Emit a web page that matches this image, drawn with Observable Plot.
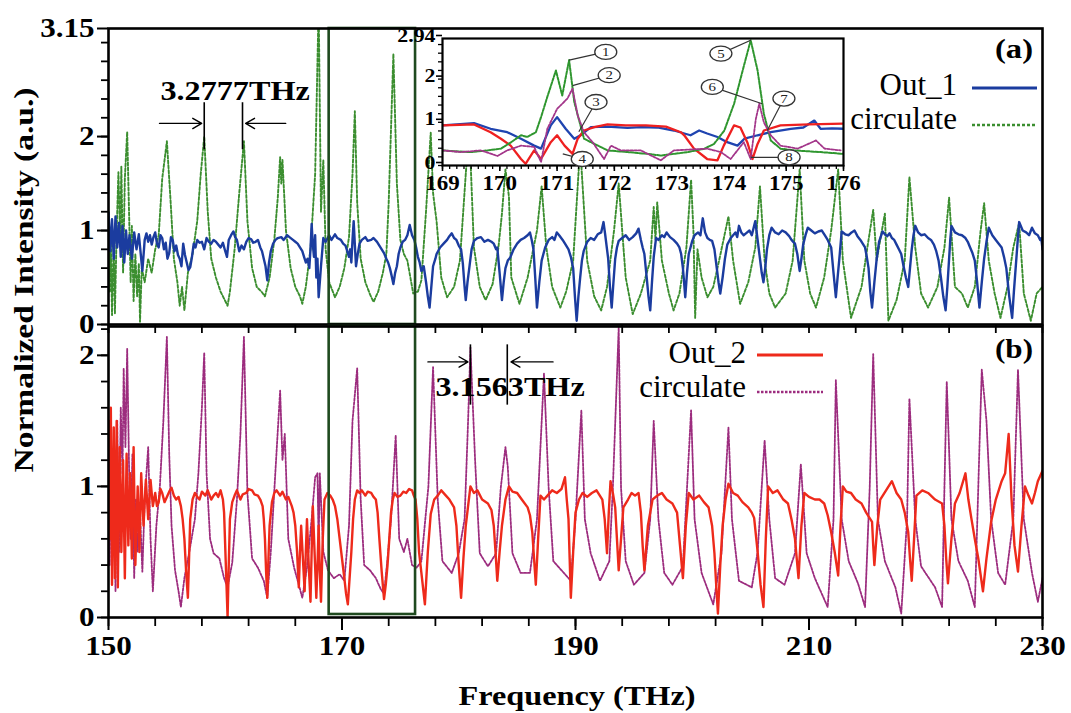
<!DOCTYPE html>
<html>
<head>
<meta charset="utf-8">
<script src="https://cdn.jsdelivr.net/npm/d3@7"></script>
<script src="https://cdn.jsdelivr.net/npm/@observablehq/plot@0.6"></script>
<style>
  body { margin: 0; background: #fff; }
  #fig { position: relative; width: 1071px; height: 713px; background: #fff; overflow: hidden; }
</style>
</head>
<body>
<div id="fig"></div>
<script>
// ---------- Spectra: [frequency (THz), normalized intensity] ----------
const out1 = [[150.0,1.19],[150.15,0.78],[150.3,1.12],[150.45,0.7],[150.6,1.15],[150.75,0.82],[150.9,1.08],[151.05,0.72],[151.2,1.05],[151.35,0.66],[151.5,1.0],[151.65,0.75],[151.8,0.95],[152.0,0.7],[152.2,0.98],[152.4,0.8],[152.6,0.96],[152.9,0.57],[153.1,0.9],[153.25,0.97],[153.4,0.88],[153.55,0.95],[153.7,0.85],[153.85,0.93],[154.0,0.98],[154.15,0.86],[154.3,0.82],[154.45,0.95],[154.6,0.92],[154.75,0.8],[154.9,0.87],[155.05,0.7],[155.2,0.76],[155.35,0.93],[155.5,0.9],[155.65,0.78],[155.8,0.84],[155.95,0.74],[156.1,0.7],[156.25,0.62],[156.4,0.86],[156.55,0.74],[156.7,0.66],[156.85,0.58],[157.0,0.61],[157.15,0.72],[157.3,0.86],[157.45,0.82],[157.6,0.9],[157.8,0.87],[158.0,0.88],[158.2,0.8],[158.4,0.92],[158.6,0.88],[158.8,0.86],[159.0,0.9],[159.2,0.88],[159.4,0.85],[159.6,0.82],[159.8,0.87],[160.0,0.78],[160.15,0.72],[160.3,0.9],[160.5,0.95],[160.7,0.99],[160.85,0.93],[161.0,0.9],[161.2,0.78],[161.4,0.84],[161.6,0.8],[161.8,0.88],[162.0,0.92],[162.2,0.91],[162.4,0.87],[162.6,0.88],[162.8,0.9],[163.0,0.82],[163.15,0.78],[163.3,0.7],[163.45,0.62],[163.6,0.47],[163.75,0.66],[163.9,0.78],[164.1,0.86],[164.3,0.9],[164.5,0.92],[164.8,0.93],[165.0,0.9],[165.3,0.95],[165.5,0.93],[165.8,0.9],[166.0,0.88],[166.2,0.86],[166.4,0.82],[166.6,0.78],[166.75,0.72],[166.9,0.66],[167.05,0.7],[167.2,0.6],[167.3,0.8],[167.4,1.07],[167.5,0.85],[167.6,0.72],[167.7,0.95],[167.8,0.5],[167.9,0.7],[168.0,0.29],[168.1,0.45],[168.2,0.62],[168.4,0.92],[168.6,0.88],[168.9,0.95],[169.1,0.9],[169.4,0.96],[169.6,0.92],[169.9,0.9],[170.1,0.86],[170.3,0.84],[170.45,0.78],[170.6,0.72],[170.7,0.8],[170.8,0.66],[170.9,0.9],[171.0,1.1],[171.1,0.85],[171.2,0.62],[171.35,0.75],[171.5,0.86],[171.7,0.9],[172.0,0.93],[172.2,0.89],[172.5,0.9],[172.7,0.92],[173.0,0.88],[173.2,0.84],[173.4,0.8],[173.6,0.76],[173.8,0.7],[173.95,0.66],[174.1,0.6],[174.25,0.52],[174.4,0.43],[174.55,0.55],[174.7,0.62],[174.85,0.75],[175.0,0.82],[175.2,0.88],[175.4,0.9],[175.6,0.95],[175.8,1.06],[176.0,0.95],[176.2,0.9],[176.35,0.82],[176.5,0.72],[176.65,0.66],[176.8,0.57],[177.0,0.62],[177.2,0.45],[177.35,0.3],[177.5,0.18],[177.65,0.4],[177.8,0.62],[178.0,0.7],[178.1,0.75],[178.4,0.82],[178.7,0.86],[179.0,0.9],[179.2,0.94],[179.4,0.97],[179.6,0.92],[179.8,0.9],[180.0,0.84],[180.2,0.8],[180.35,0.65],[180.5,0.4],[180.6,0.26],[180.75,0.45],[180.9,0.6],[181.1,0.8],[181.3,0.89],[181.6,0.92],[181.9,0.93],[182.2,0.88],[182.5,0.9],[182.8,0.88],[183.0,0.86],[183.2,0.8],[183.3,0.82],[183.5,0.55],[183.7,0.26],[183.85,0.45],[184.0,0.6],[184.2,0.68],[184.4,0.71],[184.7,0.8],[185.0,0.86],[185.3,0.9],[185.6,0.92],[185.9,0.95],[186.1,0.98],[186.25,0.9],[186.4,0.8],[186.55,0.5],[186.7,0.18],[186.9,0.45],[187.1,0.68],[187.4,0.82],[187.7,0.9],[188.0,0.93],[188.2,0.9],[188.4,0.98],[188.6,0.95],[188.9,0.9],[189.1,0.86],[189.4,0.8],[189.6,0.72],[189.8,0.6],[189.95,0.3],[190.1,0.04],[190.25,0.3],[190.4,0.5],[190.55,0.68],[190.7,0.78],[191.0,0.88],[191.3,0.92],[191.6,0.9],[191.9,0.96],[192.2,0.98],[192.4,1.09],[192.55,0.95],[192.7,0.8],[192.8,0.7],[192.95,0.4],[193.1,0.18],[193.25,0.45],[193.4,0.7],[193.55,0.82],[193.7,0.89],[194.0,0.92],[194.3,0.95],[194.6,0.9],[194.9,0.93],[195.2,0.97],[195.4,1.02],[195.6,0.9],[195.75,0.82],[195.9,0.75],[196.1,0.5],[196.25,0.3],[196.4,0.15],[196.55,0.45],[196.7,0.72],[196.9,0.92],[197.1,0.9],[197.4,0.95],[197.6,0.93],[197.8,0.98],[198.1,0.93],[198.4,0.9],[198.7,0.86],[198.9,0.82],[199.05,0.75],[199.2,0.6],[199.3,0.45],[199.4,0.29],[199.55,0.55],[199.7,0.75],[199.85,0.82],[200.0,0.89],[200.2,0.95],[200.5,0.98],[200.7,0.95],[200.9,1.13],[201.1,0.98],[201.3,0.92],[201.5,0.9],[201.7,0.89],[201.9,0.8],[202.1,0.6],[202.25,0.45],[202.4,0.33],[202.6,0.5],[202.8,0.7],[203.0,0.85],[203.3,0.92],[203.5,0.95],[203.7,0.98],[203.85,0.93],[204.0,1.05],[204.2,0.98],[204.4,0.95],[204.6,0.97],[204.9,1.0],[205.1,0.95],[205.4,1.1],[205.55,0.95],[205.7,0.8],[205.8,0.7],[205.95,0.55],[206.1,0.45],[206.25,0.6],[206.4,0.8],[206.6,0.95],[206.8,1.03],[207.1,0.98],[207.4,0.96],[207.7,1.0],[208.0,0.98],[208.3,0.94],[208.5,0.9],[208.65,0.88],[208.8,0.86],[209.0,0.75],[209.2,0.57],[209.35,0.7],[209.5,0.85],[209.7,0.95],[209.9,1.03],[210.2,1.0],[210.5,0.97],[210.8,0.99],[211.1,1.0],[211.35,0.95],[211.6,0.9],[211.75,0.86],[211.9,0.82],[212.1,0.55],[212.3,0.29],[212.45,0.5],[212.6,0.7],[212.8,0.99],[213.1,0.96],[213.4,0.95],[213.65,0.98],[213.9,1.0],[214.15,0.94],[214.4,0.9],[214.6,0.86],[214.8,0.82],[214.95,0.72],[215.1,0.6],[215.25,0.35],[215.4,0.18],[215.6,0.45],[215.8,0.7],[216.0,0.88],[216.3,0.99],[216.5,0.96],[216.7,0.94],[216.9,0.97],[217.1,0.92],[217.3,0.9],[217.5,0.85],[217.7,0.8],[217.9,0.75],[218.1,0.62],[218.3,0.5],[218.5,0.4],[218.65,0.6],[218.8,0.8],[218.95,0.95],[219.1,1.05],[219.35,0.98],[219.6,0.95],[219.9,0.96],[220.2,0.92],[220.45,0.9],[220.7,0.85],[220.9,0.78],[221.1,0.68],[221.3,0.5],[221.5,0.3],[221.7,0.15],[221.85,0.4],[222.0,0.7],[222.1,0.9],[222.2,1.05],[222.5,0.98],[222.8,0.96],[223.1,0.95],[223.4,0.92],[223.6,0.88],[223.8,0.82],[224.0,0.76],[224.2,0.68],[224.4,0.45],[224.6,0.18],[224.8,0.45],[225.0,0.7],[225.2,0.88],[225.4,1.03],[225.7,0.95],[226.0,0.9],[226.25,0.86],[226.5,0.82],[226.7,0.72],[226.9,0.6],[227.15,0.3],[227.4,0.07],[227.55,0.35],[227.7,0.6],[227.85,0.85],[228.0,1.09],[228.3,1.0],[228.6,0.98],[228.85,0.95],[229.1,1.03],[229.35,0.97],[229.6,0.95],[229.8,0.9],[229.9,0.92],[230.0,0.8]];

const circulateA = [[150.0,1.2],[150.1,0.35],[150.2,0.95],[150.3,0.1],[150.45,0.85],[150.55,0.12],[150.7,1.0],[150.85,1.62],[151.0,0.9],[151.1,1.68],[151.25,0.55],[151.4,1.55],[151.6,2.05],[151.75,1.25],[151.9,0.45],[152.0,1.05],[152.15,0.25],[152.3,0.75],[152.45,0.3],[152.6,0.65],[152.7,0.03],[152.85,0.6],[153.1,0.45],[153.4,0.7],[153.7,0.55],[154.0,0.8],[154.3,0.95],[154.6,1.55],[155.0,1.95],[155.3,1.35],[155.6,0.7],[155.9,0.45],[156.1,0.2],[156.3,0.4],[156.5,0.15],[156.8,0.55],[157.2,0.75],[157.6,1.1],[157.9,1.6],[158.2,2.0],[158.5,1.2],[158.8,0.7],[159.2,0.5],[159.6,0.35],[160.0,0.25],[160.2,0.2],[160.4,0.35],[160.8,0.8],[161.2,1.4],[161.6,1.95],[161.9,1.1],[162.3,0.6],[162.7,0.4],[163.1,0.35],[163.4,0.3],[163.8,0.5],[164.2,0.9],[164.5,1.35],[164.7,1.78],[164.8,1.5],[164.9,1.75],[165.2,1.0],[165.6,0.6],[166.0,0.4],[166.4,0.3],[166.6,0.22],[166.9,0.4],[167.3,0.8],[167.7,1.6],[168.0,3.4],[168.2,1.2],[168.4,1.75],[168.6,0.8],[168.9,0.45],[169.4,0.29],[169.8,0.4],[170.2,0.6],[170.6,0.93],[170.9,1.6],[171.1,2.27],[171.3,1.3],[171.6,0.7],[172.0,0.45],[172.4,0.32],[172.7,0.24],[173.1,0.35],[173.5,0.55],[173.8,0.75],[174.0,1.3],[174.4,2.88],[174.7,1.5],[175.0,0.9],[175.3,0.75],[175.6,0.68],[176.1,0.33],[176.5,0.35],[176.8,0.47],[177.2,1.21],[177.6,2.04],[177.8,1.4],[178.1,1.1],[178.5,0.5],[179.0,0.29],[179.6,0.4],[180.1,0.68],[180.6,1.6],[180.9,2.1],[181.3,0.82],[181.8,0.4],[182.3,0.26],[182.9,0.43],[183.4,0.82],[183.7,1.18],[184.0,1.65],[184.3,1.36],[184.5,0.5],[185.2,0.22],[185.9,0.5],[186.7,1.0],[187.1,1.47],[187.5,0.82],[188.0,0.4],[188.7,0.18],[189.2,0.35],[189.8,0.68],[190.4,1.9],[191.0,0.68],[191.6,0.3],[192.2,0.15],[192.7,0.4],[193.3,1.0],[193.7,1.5],[194.0,1.0],[194.3,0.5],[194.9,0.11],[195.6,0.33],[196.4,0.68],[196.7,1.25],[196.85,0.9],[197.0,1.3],[197.4,0.68],[198.0,0.33],[198.4,0.15],[198.9,0.33],[199.5,0.82],[199.9,1.54],[200.1,1.0],[200.25,0.07],[200.45,0.8],[200.8,0.5],[201.3,0.29],[201.8,0.4],[202.3,0.68],[203.1,1.15],[203.5,0.68],[204.1,0.22],[204.8,0.45],[205.4,0.82],[205.8,1.47],[206.2,0.68],[206.6,0.33],[207.1,0.18],[208.0,0.33],[208.6,0.68],[209.2,1.65],[209.6,0.68],[210.1,0.33],[210.6,0.18],[211.3,0.5],[211.9,1.0],[212.5,1.65],[212.9,0.68],[213.6,0.07],[214.5,0.4],[215.0,0.82],[215.5,1.22],[215.8,0.68],[216.1,0.9],[216.5,1.18],[216.8,0.04],[217.5,0.26],[218.2,0.68],[218.6,1.57],[219.1,0.82],[219.6,0.33],[220.2,0.18],[221.0,0.4],[221.6,0.82],[222.0,1.35],[222.5,0.4],[223.1,0.33],[223.6,0.18],[224.2,0.4],[224.7,1.0],[225.0,1.29],[225.4,0.68],[225.9,0.33],[226.4,0.07],[227.0,0.4],[227.5,0.82],[228.0,1.08],[228.4,0.33],[229.0,0.04],[229.5,0.33],[230.0,0.4]];

const out2 = [[150.0,1.5],[150.1,0.6],[150.2,1.6],[150.3,0.25],[150.45,1.45],[150.55,0.3],[150.7,1.5],[150.8,0.23],[150.95,1.3],[151.1,0.5],[151.25,1.2],[151.4,0.3],[151.55,1.25],[151.7,0.55],[151.85,1.1],[152.0,0.45],[152.15,1.3],[152.3,0.4],[152.5,1.0],[152.65,0.5],[152.8,1.1],[153.0,0.7],[153.2,1.05],[153.4,0.75],[153.6,1.05],[153.8,0.85],[154.0,0.95],[154.15,0.85],[154.3,0.88],[154.45,0.98],[154.6,0.95],[154.8,0.88],[155.0,0.92],[155.2,0.96],[155.4,0.99],[155.6,0.93],[155.8,0.9],[156.0,0.92],[156.2,0.85],[156.35,0.75],[156.5,0.6],[156.65,0.35],[156.8,0.15],[156.9,0.45],[157.0,0.75],[157.2,0.9],[157.4,0.95],[157.6,0.92],[157.8,0.9],[158.0,0.96],[158.3,0.93],[158.5,0.97],[158.8,0.9],[159.0,0.93],[159.2,0.95],[159.4,0.92],[159.6,0.97],[159.8,0.9],[159.9,0.8],[160.05,0.4],[160.2,0.0],[160.3,0.4],[160.4,0.75],[160.6,0.88],[160.8,0.93],[161.0,0.97],[161.3,0.9],[161.5,0.94],[161.8,0.95],[162.0,0.98],[162.3,0.97],[162.5,0.94],[162.8,0.93],[163.0,0.9],[163.2,0.85],[163.3,0.75],[163.4,0.6],[163.5,0.35],[163.6,0.15],[163.7,0.45],[163.8,0.7],[164.0,0.88],[164.2,0.95],[164.4,0.97],[164.7,0.93],[164.9,0.96],[165.2,0.9],[165.4,0.92],[165.7,0.85],[165.85,0.8],[166.0,0.7],[166.15,0.5],[166.3,0.23],[166.4,0.5],[166.5,0.7],[166.65,0.45],[166.8,0.2],[166.9,0.5],[167.0,0.75],[167.15,0.4],[167.3,0.12],[167.4,0.5],[167.5,0.85],[167.65,0.5],[167.8,0.15],[167.9,0.4],[168.0,0.7],[168.1,0.35],[168.2,0.12],[168.35,0.6],[168.5,0.9],[168.75,0.95],[169.0,0.93],[169.2,0.9],[169.4,0.85],[169.6,0.75],[169.8,0.6],[170.0,0.45],[170.2,0.3],[170.35,0.18],[170.5,0.1],[170.65,0.3],[170.8,0.5],[170.95,0.75],[171.1,0.9],[171.3,0.97],[171.5,0.95],[171.7,0.97],[172.0,0.93],[172.2,0.96],[172.5,0.95],[172.7,0.92],[172.9,0.9],[173.05,0.8],[173.2,0.6],[173.4,0.35],[173.6,0.14],[173.75,0.25],[173.9,0.4],[174.05,0.6],[174.2,0.8],[174.35,0.9],[174.5,0.95],[174.75,0.92],[175.0,0.93],[175.25,0.96],[175.5,0.95],[175.75,0.98],[176.0,0.97],[176.15,0.93],[176.3,0.9],[176.45,0.75],[176.6,0.5],[176.85,0.3],[177.1,0.1],[177.35,0.5],[177.6,0.79],[177.9,0.9],[178.2,0.93],[178.5,0.97],[178.9,0.93],[179.2,0.9],[179.6,0.84],[179.8,0.7],[180.0,0.4],[180.2,0.15],[180.4,0.45],[180.6,0.7],[181.0,1.0],[181.3,0.95],[181.6,0.97],[182.0,0.9],[182.5,0.87],[182.8,0.82],[183.0,0.7],[183.15,0.5],[183.3,0.28],[183.5,0.5],[183.7,0.7],[184.0,0.9],[184.3,1.0],[184.6,0.96],[185.0,0.95],[185.4,0.9],[185.9,0.84],[186.1,0.78],[186.3,0.65],[186.45,0.45],[186.6,0.25],[186.8,0.6],[187.0,0.93],[187.3,0.9],[187.6,0.93],[188.0,0.97],[188.4,0.95],[188.8,0.98],[189.1,1.07],[189.25,0.9],[189.4,0.75],[189.5,0.45],[189.6,0.15],[189.8,0.5],[190.0,0.8],[190.3,0.9],[190.6,0.95],[191.0,0.92],[191.4,0.95],[191.8,0.97],[192.3,0.9],[192.5,0.75],[192.7,0.49],[192.85,0.8],[193.0,1.04],[193.2,0.95],[193.4,0.84],[193.55,0.6],[193.7,0.36],[193.9,0.6],[194.1,0.84],[194.5,0.9],[194.8,0.95],[195.1,0.93],[195.4,0.95],[195.6,0.8],[195.75,0.55],[195.9,0.36],[196.2,0.7],[196.6,0.9],[197.0,0.93],[197.4,0.95],[197.8,0.9],[198.3,0.87],[198.7,0.8],[198.95,0.55],[199.2,0.3],[199.45,0.7],[199.7,0.95],[200.1,0.9],[200.6,0.93],[201.0,0.88],[201.4,0.84],[201.7,0.7],[201.9,0.49],[202.05,0.25],[202.2,0.03],[202.4,0.4],[202.6,0.7],[202.85,0.9],[203.1,1.02],[203.5,0.95],[203.9,0.93],[204.3,0.88],[204.8,0.84],[205.1,0.8],[205.3,0.76],[205.6,0.5],[205.85,0.25],[206.1,0.08],[206.3,0.6],[206.5,1.0],[206.9,0.95],[207.3,0.97],[207.8,0.9],[208.2,0.87],[208.5,0.75],[208.8,0.6],[208.95,0.45],[209.1,0.3],[209.35,0.7],[209.6,0.95],[210.0,0.92],[210.5,0.9],[210.9,0.9],[211.3,0.87],[211.6,0.78],[211.9,0.65],[212.2,0.5],[212.5,0.32],[212.7,0.7],[212.9,1.0],[213.2,0.96],[213.6,0.95],[214.0,0.9],[214.5,0.87],[214.9,0.8],[215.4,0.73],[215.5,0.55],[215.6,0.4],[215.85,0.7],[216.1,0.9],[216.6,0.97],[217.1,1.04],[217.5,0.95],[217.9,0.9],[218.2,0.8],[218.5,0.65],[218.65,0.45],[218.8,0.28],[219.0,0.6],[219.2,0.93],[219.7,0.97],[220.2,0.95],[220.8,0.9],[221.4,0.87],[221.6,0.7],[221.75,0.45],[221.9,0.26],[222.2,0.6],[222.5,0.87],[222.9,0.95],[223.4,1.1],[223.65,0.9],[223.9,0.76],[224.2,0.6],[224.5,0.45],[224.9,0.2],[225.2,0.45],[225.6,0.73],[226.0,0.9],[226.5,1.04],[226.8,1.1],[227.1,1.4],[227.35,0.9],[227.6,0.55],[227.9,0.35],[228.2,0.7],[228.5,1.0],[228.8,0.93],[229.1,0.87],[229.35,0.95],[229.6,1.04],[229.8,1.08],[230.0,1.12]];

const circulateB = [[150.0,1.2],[150.1,0.4],[150.2,1.55],[150.3,0.3],[150.45,1.3],[150.6,0.2],[150.75,1.5],[150.9,0.5],[151.05,1.6],[151.2,1.1],[151.3,1.9],[151.45,1.3],[151.6,2.05],[151.75,1.2],[151.9,0.6],[152.05,1.25],[152.2,0.3],[152.35,0.9],[152.5,0.5],[152.7,0.8],[152.9,0.35],[153.1,0.9],[153.4,1.3],[153.6,0.6],[153.8,0.2],[154.1,0.7],[154.4,1.0],[154.7,1.5],[155.0,2.14],[155.2,1.25],[155.4,0.7],[155.7,0.36],[156.0,0.2],[156.2,0.08],[156.5,0.3],[156.9,0.49],[157.4,0.75],[157.7,1.1],[158.0,1.6],[158.2,2.02],[158.4,1.1],[158.7,0.6],[159.0,0.49],[159.5,0.45],[159.9,0.3],[160.2,0.23],[160.6,0.42],[161.0,0.9],[161.3,1.4],[161.6,2.14],[161.9,0.95],[162.3,0.45],[162.8,0.38],[163.3,0.28],[163.6,0.15],[163.9,0.5],[164.3,1.12],[164.7,1.73],[164.9,1.2],[165.1,1.4],[165.4,0.6],[165.9,0.38],[166.3,0.25],[166.6,0.15],[167.0,0.38],[167.4,0.75],[167.7,1.07],[167.9,1.1],[168.0,0.55],[168.1,1.1],[168.4,0.5],[168.8,0.36],[169.3,0.3],[169.8,0.33],[170.2,0.28],[170.6,0.7],[170.9,1.5],[171.3,1.9],[171.6,0.9],[171.9,0.4],[172.4,0.36],[172.9,0.3],[173.3,0.22],[173.6,0.18],[173.9,0.45],[174.2,0.75],[174.6,1.39],[174.9,0.6],[175.3,0.5],[175.6,0.6],[176.0,0.4],[176.4,0.38],[176.8,0.43],[177.4,1.0],[177.8,1.91],[178.2,0.9],[178.6,0.43],[179.4,0.34],[180.0,0.49],[180.5,0.75],[180.8,1.5],[181.0,2.06],[181.4,1.2],[181.8,0.49],[182.5,0.39],[183.2,0.49],[183.6,0.99],[184.0,1.3],[184.2,1.15],[184.6,0.49],[185.3,0.34],[186.1,0.34],[186.7,0.75],[187.3,1.86],[187.7,0.99],[188.1,0.43],[189.0,0.34],[189.6,0.28],[190.0,0.75],[190.5,1.58],[190.8,0.75],[191.3,0.49],[192.1,0.28],[192.9,0.43],[193.2,0.99],[193.7,2.21],[193.9,0.99],[194.3,0.43],[195.0,0.25],[195.9,0.34],[196.4,0.75],[196.7,1.5],[197.1,0.75],[197.6,0.34],[198.3,0.25],[199.2,0.39],[199.9,1.58],[200.2,0.75],[200.8,0.34],[201.8,0.1],[202.5,0.49],[203.1,1.45],[203.4,0.75],[204.0,0.28],[205.1,0.23],[205.6,0.5],[206.2,1.35],[206.6,0.75],[207.1,0.3],[207.9,0.25],[208.8,0.49],[209.3,1.17],[209.8,0.49],[210.5,0.3],[211.6,0.08],[212.1,0.75],[212.3,1.81],[212.8,0.75],[213.4,0.43],[214.2,0.26],[214.8,0.08],[215.2,0.99],[215.5,2.01],[215.9,0.75],[216.5,0.43],[217.4,0.23],[217.9,0.03],[218.4,0.75],[218.6,1.67],[219.1,0.75],[219.6,0.39],[220.8,0.23],[221.4,0.08],[221.6,0.99],[221.8,1.8],[222.2,0.75],[222.8,0.43],[223.6,0.28],[224.2,0.08],[224.6,1.3],[224.8,1.89],[225.2,1.5],[225.6,0.75],[226.2,0.34],[226.8,0.25],[227.5,0.75],[227.9,1.89],[228.4,0.75],[229.1,0.34],[229.6,0.12],[230.0,0.3]];

// Zoomed 169–176 THz window (inset)
const zoomOut1 = [[169.0,0.93],[169.25,0.95],[169.55,0.98],[169.84,0.85],[170.13,0.77],[170.37,0.62],[170.6,0.46],[170.72,0.39],[170.89,0.93],[171.0,1.12],[171.15,0.85],[171.3,0.62],[171.41,0.7],[171.59,0.89],[171.88,0.9],[172.23,0.87],[172.46,0.89],[172.75,0.88],[173.04,0.81],[173.33,0.7],[173.48,0.81],[173.62,0.74],[173.8,0.66],[173.97,0.54],[174.15,0.46],[174.27,0.62],[174.5,0.7],[174.73,0.77],[175.08,0.85],[175.3,0.88],[175.49,1.04],[175.6,0.85],[175.8,0.86],[176.0,0.85]];
const zoomOut2 = [[169.0,0.93],[169.3,0.94],[169.55,0.95],[169.84,0.77],[170.02,0.62],[170.19,0.46],[170.37,0.15],[170.45,0.04],[170.6,0.35],[170.72,0.15],[170.89,0.54],[171.0,0.7],[171.13,0.46],[171.27,0.27],[171.36,0.62],[171.47,0.81],[171.65,0.89],[171.88,0.95],[172.2,0.93],[172.55,0.93],[172.9,0.9],[173.16,0.77],[173.22,0.7],[173.39,0.39],[173.62,0.15],[173.8,0.12],[173.91,0.46],[174.09,0.93],[174.2,0.88],[174.32,0.54],[174.41,0.15],[174.5,0.5],[174.61,0.81],[174.9,0.93],[175.4,0.95],[176.0,0.97]];
const zoomCircA = [[169.0,0.35],[169.2,0.33],[169.49,0.31],[169.79,0.35],[170.02,0.39],[170.2,0.54],[170.37,0.7],[170.48,0.66],[170.63,0.77],[170.72,1.12],[170.83,1.59],[170.98,2.2],[171.09,1.62],[171.21,2.44],[171.3,1.47],[171.47,0.62],[171.59,0.54],[171.88,0.35],[172.23,0.31],[172.58,0.27],[172.81,0.23],[173.04,0.27],[173.28,0.31],[173.57,0.39],[173.74,0.5],[173.92,0.81],[174.09,1.43],[174.24,2.2],[174.38,2.9],[174.5,2.2],[174.61,1.2],[174.73,0.58],[174.9,0.39],[175.14,0.35],[175.6,0.31],[176.0,0.27]];
const zoomCircB = [[169.0,0.35],[169.32,0.31],[169.67,0.35],[169.96,0.22],[170.13,0.35],[170.37,0.46],[170.6,0.43],[170.72,0.08],[170.83,0.85],[171.0,1.31],[171.18,1.55],[171.27,1.78],[171.36,1.16],[171.47,0.77],[171.62,0.54],[171.82,0.15],[171.94,0.46],[172.11,0.35],[172.46,0.35],[172.81,0.12],[173.04,0.35],[173.62,0.39],[173.86,0.31],[174.03,0.15],[174.26,0.54],[174.38,0.15],[174.47,1.08],[174.53,1.43],[174.61,1.0],[174.73,0.7],[174.9,0.46],[175.2,0.39],[175.52,0.58],[175.67,0.39],[175.95,0.35]];

// Numbered callouts in the zoomed window: label position and the feature it points to
const callouts = [
  {n: "1", x: 171.85, y: 2.63, tx: 171.21, ty: 2.44},
  {n: "2", x: 171.91, y: 2.09, tx: 171.27, ty: 1.85},
  {n: "3", x: 171.68, y: 1.47, tx: 171.38, ty: 0.78},
  {n: "4", x: 171.44, y: 0.15, tx: 171.10, ty: 0.27},
  {n: "5", x: 173.86, y: 2.59, tx: 174.38, ty: 2.90},
  {n: "6", x: 173.71, y: 1.82, tx: 174.58, ty: 1.43},
  {n: "7", x: 174.96, y: 1.55, tx: 174.67, ty: 0.81},
  {n: "8", x: 175.05, y: 0.19, tx: 174.38, ty: 0.19}
];

// Axis ticks
const freqLabels = [150, 170, 190, 210, 230];
const yLabelsA = [0, 1, 2, 3.15];
const yLabelsB = [0, 1, 2];
const zoomFreqLabels = [169, 170, 171, 172, 173, 174, 175, 176];
const zoomYLabels = [0, 1, 2, 2.94];

// Free spectral range markers
const peakA = 158.2, fsrA = 3.2777;
const peakB = 181.0, fsrB = 3.1563;
const zoomWindow = [168.9, 176.3];

// Series styles
const colors = {out1: "#1b3c9f", circA: "#3b8e2f", out2: "#ee2a1b", circB: "#9c2c7e"};
const legendA = [
  {label: "Out_1", color: colors.out1, dash: null},
  {label: "circulate", color: colors.circA, dash: "3,2"}
];
const legendB = [
  {label: "Out_2", color: colors.out2, dash: null},
  {label: "circulate", color: colors.circB, dash: "2.5,1.5"}
];

// ---------- Drawing ----------
const serif = "'Liberation Serif','Times New Roman',serif";
const fig = document.getElementById("fig");
const baseStyle = {background: "transparent", overflow: "visible", fontFamily: serif, color: "black"};
const fx = d => d[0], fy = d => d[1];
const blank = () => "";

function place(el, left, top) {
  el.style.position = "absolute";
  el.style.left = left + "px";
  el.style.top = top + "px";
  fig.appendChild(el);
}
// widen glyphs of the bold labels a little around their anchor
function widen(svg, k) {
  svg.querySelectorAll("text").forEach(t => {
    const tr = t.getAttribute("transform");
    if (tr) t.setAttribute("transform", tr + ` scale(${k},1)`);
  });
}

// Panel (a)
const plotA = Plot.plot({
  width: 1071, height: 327,
  marginLeft: 108, marginRight: 29, marginTop: 28, marginBottom: 3,
  style: baseStyle,
  x: {domain: [150, 230], axis: null},
  y: {domain: [0, 3.15], axis: null},
  marks: [
    Plot.line(circulateA, {x: fx, y: fy, stroke: colors.circA, strokeWidth: 1.9, strokeDasharray: "3,2", clip: true}),
    Plot.line(out1, {x: fx, y: fy, stroke: colors.out1, strokeWidth: 2.4, clip: true}),
    Plot.rect([zoomWindow], {x1: d => d[0], x2: d => d[1], y1: 0, y2: 3.15, fill: "none", stroke: "#1f4a1f", strokeWidth: 2.6}),
    Plot.ruleX([peakA, peakA + fsrA], {x: d => d, y1: 1.86, y2: 2.36, stroke: "black", strokeWidth: 1.6}),
    Plot.arrow([[peakA - 3.83, peakA - 0.22], [peakA + fsrA + 3.7, peakA + fsrA + 0.27]],
      {x1: d => d[0], x2: d => d[1], y1: 2.14, y2: 2.14, stroke: "black", strokeWidth: 1.4, headLength: 11}),
    Plot.text([`${fsrA}THz`], {x: peakA - 3.75, y: 2.48, text: d => d, textAnchor: "start", fontSize: 28, fontWeight: "bold", fill: "black"}),
    Plot.frame({stroke: "black", strokeWidth: 2.6}),
    Plot.axisY(d3.range(0, 3.1, 0.2), {tickSize: 7, tickFormat: blank, strokeWidth: 1.8, label: null}),
    Plot.axisY(yLabelsA, {tickSize: 11, tickPadding: 3, tickFormat: d => String(d), fontSize: 27, fontWeight: "bold", strokeWidth: 2, label: null}),
    Plot.axisX(d3.range(150, 231, 4), {anchor: "bottom", tickSize: 9, tickFormat: blank, strokeWidth: 1.8, label: null})
  ]
});
widen(plotA, 1.15);
place(plotA, 0, 0);

// Panel (b)
const plotB = Plot.plot({
  width: 1071, height: 391,
  marginLeft: 108, marginRight: 29, marginTop: 4, marginBottom: 96,
  style: baseStyle,
  x: {domain: [150, 230], axis: null},
  y: {domain: [0, 2.22], axis: null},
  marks: [
    Plot.line(circulateB, {x: fx, y: fy, stroke: colors.circB, strokeWidth: 1.8, strokeDasharray: "2.5,1.5", clip: true}),
    Plot.line(out2, {x: fx, y: fy, stroke: colors.out2, strokeWidth: 2.4, clip: true}),
    Plot.rect([zoomWindow], {x1: d => d[0], x2: d => d[1], y1: 0.023, y2: 2.22, fill: "none", stroke: "#1f4a1f", strokeWidth: 2.6}),
    Plot.ruleX([peakB, peakB + fsrB], {x: d => d, y1: 1.62, y2: 2.08, stroke: "black", strokeWidth: 1.6}),
    Plot.arrow([[peakB - 3.64, peakB - 0.21], [peakB + fsrB + 3.92, peakB + fsrB + 0.32]],
      {x1: d => d[0], x2: d => d[1], y1: 1.95, y2: 1.95, stroke: "black", strokeWidth: 1.4, headLength: 11}),
    Plot.text([`${fsrB}THz`], {x: peakB - 3.0, y: 1.76, text: d => d, textAnchor: "start", fontSize: 28, fontWeight: "bold", fill: "black"}),
    Plot.frame({stroke: "black", strokeWidth: 2.6}),
    Plot.axisY(d3.range(0, 2.21, 0.2), {tickSize: 7, tickFormat: blank, strokeWidth: 1.8, label: null}),
    Plot.axisY(yLabelsB, {tickSize: 11, tickPadding: 3, tickFormat: d => String(d), fontSize: 27, fontWeight: "bold", strokeWidth: 2, label: null}),
    Plot.axisX(d3.range(150, 231, 4), {anchor: "bottom", tickSize: 9, tickFormat: blank, strokeWidth: 1.8, label: null}),
    Plot.axisX(freqLabels, {anchor: "bottom", tickSize: 13, tickPadding: 5, tickFormat: d => String(d), fontSize: 27, fontWeight: "bold", strokeWidth: 2, label: null})
  ]
});
widen(plotB, 1.15);
place(plotB, 0, 322);

// Inset: 169–176 THz
const ellipse = {
  draw(ctx) {
    const rx = 11, ry = 7.5, k = 0.5523;
    ctx.moveTo(rx, 0);
    ctx.bezierCurveTo(rx, ry * k, rx * k, ry, 0, ry);
    ctx.bezierCurveTo(-rx * k, ry, -rx, ry * k, -rx, 0);
    ctx.bezierCurveTo(-rx, -ry * k, -rx * k, -ry, 0, -ry);
    ctx.bezierCurveTo(rx * k, -ry, rx, -ry * k, rx, 0);
    ctx.closePath();
  }
};
const plotC = Plot.plot({
  width: 449, height: 165,
  marginLeft: 40, marginRight: 8, marginTop: 8, marginBottom: 30,
  style: baseStyle,
  x: {domain: [169, 176], axis: null},
  y: {domain: [0, 2.94], axis: null},
  marks: [
    Plot.frame({fill: "white", stroke: "none"}),
    Plot.line(zoomOut1, {x: fx, y: fy, stroke: "#1f44b0", strokeWidth: 2.3, clip: true}),
    Plot.line(zoomOut2, {x: fx, y: fy, stroke: "#ee2020", strokeWidth: 2.3, clip: true}),
    Plot.line(zoomCircA, {x: fx, y: fy, stroke: "#2f962f", strokeWidth: 2, strokeDasharray: "3,1.5", clip: true}),
    Plot.line(zoomCircB, {x: fx, y: fy, stroke: "#a3368a", strokeWidth: 1.8, strokeDasharray: "2.5,1.5", clip: true}),
    Plot.frame({stroke: "black", strokeWidth: 2.2}),
    Plot.axisY(d3.range(0, 2.95, 0.2), {tickSize: 4, tickFormat: blank, strokeWidth: 1.3, label: null}),
    Plot.axisY(zoomYLabels, {tickSize: 6, tickPadding: 1, dy: -3, tickFormat: d => String(d), fontSize: 19, fontWeight: "bold", strokeWidth: 1.6, label: null}),
    Plot.axisX(d3.range(169, 176.01, 0.125), {anchor: "bottom", tickSize: 4, tickFormat: blank, strokeWidth: 1.3, label: null}),
    Plot.axisX(zoomFreqLabels, {anchor: "bottom", tickSize: 6, tickPadding: 4, tickFormat: d => String(d), fontSize: 20, fontWeight: "bold", strokeWidth: 1.6, label: null}),
    Plot.link(callouts, {x1: d => d.tx, y1: d => d.ty, x2: d => d.x, y2: d => d.y, stroke: "#333", strokeWidth: 1.2}),
    Plot.dot(callouts, {x: d => d.x, y: d => d.y, symbol: ellipse, fill: "white", stroke: "#333", strokeWidth: 1.3}),
    Plot.text(callouts, {x: d => d.x, y: d => d.y, text: d => d.n, fontSize: 13, fill: "#222"})
  ]
});
widen(plotC, 1.15);
place(plotC, 402, 30);

// Overlay: axis titles, panel tags, legends
const ov = d3.create("svg").attr("width", 1071).attr("height", 713)
  .style("font-family", serif).style("pointer-events", "none");
ov.append("text").attr("transform", "translate(33,280) rotate(-90)")
  .attr("text-anchor", "middle").attr("font-size", 27).attr("font-weight", "bold")
  .attr("textLength", 385).attr("lengthAdjust", "spacingAndGlyphs")
  .text("Normalized Intensity (a.u.)");
ov.append("text").attr("x", 577).attr("y", 705)
  .attr("text-anchor", "middle").attr("font-size", 27).attr("font-weight", "bold")
  .attr("textLength", 237).attr("lengthAdjust", "spacingAndGlyphs")
  .text("Frequency (THz)");
[["(a)", 58], ["(b)", 358]].forEach(([t, y]) => {
  ov.append("text").attr("x", 1014).attr("y", y).attr("text-anchor", "middle")
    .attr("font-size", 27).attr("font-weight", "bold")
    .attr("textLength", 38).attr("lengthAdjust", "spacingAndGlyphs").text(t);
});
function legend(entries, textRight, lineX1, lineX2, baselines, lineYs) {
  entries.forEach((e, i) => {
    ov.append("text").attr("x", textRight).attr("y", baselines[i]).attr("text-anchor", "end")
      .attr("font-size", 31).text(e.label);
    ov.append("line").attr("x1", lineX1).attr("x2", lineX2).attr("y1", lineYs[i]).attr("y2", lineYs[i])
      .attr("stroke", e.color).attr("stroke-width", e.dash ? 2.4 : 3)
      .attr("stroke-dasharray", e.dash);
  });
}
legend(legendA, 957, 972, 1037, [95, 129], [88, 125]);
legend(legendB, 746, 757, 823, [363, 397], [355, 392]);
place(ov.node(), 0, 0);
</script>
</body>
</html>
